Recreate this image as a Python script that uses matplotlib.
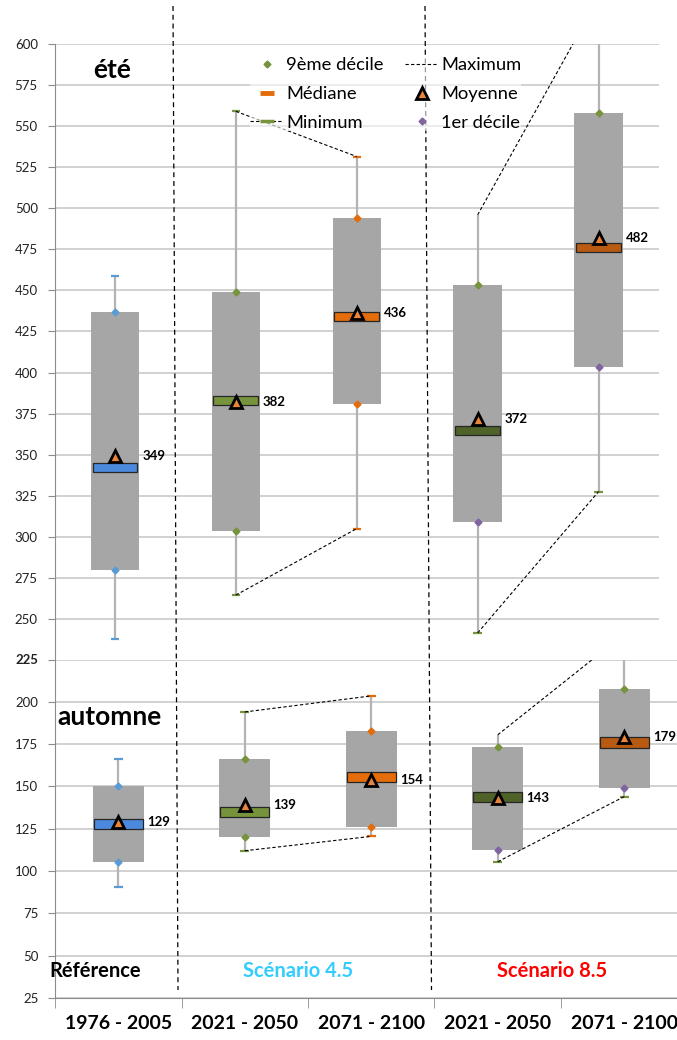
"""
Cumul saisonnier : été / automne
Boîtes 1er-9ème décile, médiane, moyenne, extrêmes
Référence 1976-2005 vs scénarios 4.5 et 8.5
"""

import numpy as np
import matplotlib
matplotlib.use('Agg')
import matplotlib.pyplot as plt
from matplotlib.lines import Line2D
from matplotlib.patches import Rectangle

# ── Data ──────────────────────────────────────────────────────────────────────
periods = ['1976 - 2005', '2021 - 2050', '2071 - 2100', '2021 - 2050', '2071 - 2100']
groups  = ['Référence', 'Scénario 4.5', 'Scénario 8.5']

ete_max    = [458.5, 559.0, 531.5, 496.0, 628.0]
ete_d9     = [437.0, 449.0, 494.0, 453.5, 558.0]
ete_median = [342.0, 383.0, 434.0, 365.0, 476.0]
ete_mean   = [349, 382, 436, 372, 482]
ete_d1     = [280.0, 303.5, 381.0, 309.0, 403.5]
ete_min    = [237.5, 264.5, 305.0, 241.5, 327.5]

aut_max    = [166.5, 194.0, 203.5, 180.5, 240.0]
aut_d9     = [150.0, 166.5, 182.5, 173.5, 207.5]
aut_median = [128.0, 135.0, 155.5, 144.0, 176.0]
aut_mean   = [129, 139, 154, 143, 179]
aut_d1     = [105.5, 120.0, 126.0, 112.5, 149.0]
aut_min    = [90.5, 112.0, 120.5, 105.5, 144.0]

# ── Style ─────────────────────────────────────────────────────────────────────
W, H = 677, 1040
FONT = 'Lato'
plt.rcParams['font.family'] = [FONT, 'DejaVu Sans']

BOX_GREY   = '#a6a6a6'
WHISKER    = '#b3b3b3'
GRID       = '#c9c9c9'
SPINE      = '#8c8c8c'
MEAN_FILL  = '#e8853a'
BLUE, GREEN, ORANGE = '#5b9bd5', '#77933c', '#e46c0a'
PURPLE = '#8064a2'

median_colors  = ['#4a89dc', '#77933c', '#e46c0a', '#4f6228', '#b85a12']
d9_colors      = [BLUE, GREEN, ORANGE, GREEN, GREEN]
d1_colors      = [BLUE, GREEN, ORANGE, PURPLE, PURPLE]
max_cap_colors = [BLUE, GREEN, ORANGE, None, None]
min_cap_colors = [BLUE, GREEN, ORANGE, GREEN, GREEN]


def px_box(left, right, top, bottom):
    """Axes rectangle from pixel edges (origin top-left)."""
    return [left / W, 1 - bottom / H, (right - left) / W, (bottom - top) / H]


# ── Panel drawing ─────────────────────────────────────────────────────────────
def draw_panel(ax, mx, d9, med, mean, d1, mn, box_w, med_w, med_h):
    x = np.arange(len(periods))
    mx, d9, med, d1, mn = map(np.asarray, (mx, d9, med, d1, mn))

    ax.bar(x, d9 - d1, bottom=d1, width=box_w, color=BOX_GREY, zorder=2)
    ax.vlines(x, d9, mx, color=WHISKER, lw=1.6, zorder=1.5)
    ax.vlines(x, mn, d1, color=WHISKER, lw=1.6, zorder=1.5)

    for i in x:
        if max_cap_colors[i]:
            ax.hlines(mx[i], i - 0.035, i + 0.035, color=max_cap_colors[i], lw=1.6, zorder=3)
        ax.hlines(mn[i], i - 0.035, i + 0.035, color=min_cap_colors[i], lw=1.6, zorder=3)
        ax.plot(i, d9[i], 'D', ms=3.5, color=d9_colors[i], zorder=3)
        ax.plot(i, d1[i], 'D', ms=3.5, color=d1_colors[i], zorder=3)
        ax.add_patch(Rectangle((i - med_w / 2, med[i] - med_h / 2), med_w, med_h,
                               facecolor=median_colors[i], edgecolor='#262626',
                               lw=0.9, zorder=4))
        ax.text(i + box_w / 2 + 0.025, mean[i], f'{mean[i]:.0f}', ha='left',
                va='center', fontsize=9.5, fontweight='bold', zorder=6)

    # évolution des extrêmes entre les deux horizons de chaque scénario
    for a, b in [(1, 2), (3, 4)]:
        for serie in (mx, mn):
            ax.plot([a, b], [serie[a], serie[b]], color='black', lw=0.8,
                    ls=(0, (3, 2)), zorder=4)

    ax.plot(x, mean, ls='none', marker='^', ms=9, mfc=MEAN_FILL, mec='black',
            mew=2, zorder=5)

    ax.set_xlim(-0.5, len(periods) - 0.5)
    ax.set_axisbelow(True)
    ax.yaxis.grid(True, color=GRID, lw=1.2)
    for s in ('top', 'right'):
        ax.spines[s].set_visible(False)
    ax.spines['left'].set_color(SPINE)
    ax.tick_params(axis='y', length=5, color=SPINE, pad=7, labelsize=9.5,
                   labelcolor='#222222')


fig = plt.figure(figsize=(W / 100, H / 100), dpi=100)

# ── Été ───────────────────────────────────────────────────────────────────────
ax_top = fig.add_axes(px_box(54.5, 659, 44, 660))
draw_panel(ax_top, ete_max, ete_d9, ete_median, ete_mean, ete_d1, ete_min,
           box_w=0.4, med_w=0.37, med_h=5.5)
ax_top.set_ylim(225, 600)
ax_top.set_yticks(np.arange(250, 601, 25))
ax_top.spines['bottom'].set_visible(False)
ax_top.tick_params(axis='x', bottom=False, labelbottom=False)
ax_top.text(-0.025, 584, 'été', ha='center', va='center', fontsize=19,
            fontweight='bold')

# ── Automne ───────────────────────────────────────────────────────────────────
ax_bot = fig.add_axes(px_box(55, 687.5, 659.5, 998))
draw_panel(ax_bot, aut_max, aut_d9, aut_median, aut_mean, aut_d1, aut_min,
           box_w=0.4, med_w=0.39, med_h=6)
ax_bot.set_ylim(25, 225)
ax_bot.set_yticks(np.arange(25, 226, 25))
ax_bot.get_yticklabels()[-1].set_fontweight('bold')
ax_bot.spines['bottom'].set_color(SPINE)
ax_bot.set_xticks(np.arange(len(periods)))
ax_bot.set_xticklabels(periods, fontsize=14, fontweight='bold')
ax_bot.set_xticks(np.arange(-0.5, len(periods), 1), minor=True)
ax_bot.tick_params(axis='x', which='major', length=0, pad=12)
ax_bot.tick_params(axis='x', which='minor', length=7, color=SPINE)
ax_bot.text(-0.484, 191, 'automne', ha='left', va='center', fontsize=19,
            fontweight='bold')

group_x = [-0.18, 1.42, 3.43]
group_colors = ['black', '#33ccff', '#ff0000']
for gx, name, c in zip(group_x, groups, group_colors):
    ax_bot.text(gx, 41, name, ha='center', va='center', fontsize=14.5,
                fontweight='bold', color=c)

# ── Séparateurs de scénarios ─────────────────────────────────────────────────
for x0, x1 in [(173, 178), (425, 431.5)]:
    fig.add_artist(Line2D([x0 / W, x1 / W], [1 - 6 / H, 1 - 990 / H],
                          transform=fig.transFigure, color='black', lw=0.9,
                          ls=(0, (4, 3))))

# ── Légende ───────────────────────────────────────────────────────────────────
handles = [
    Line2D([], [], ls='none', marker='D', ms=3.5, color=GREEN),
    Line2D([], [], ls='none', marker='_', ms=10, mew=3.5, color=ORANGE),
    Line2D([], [], color='black', lw=0.8, ls=(0, (3, 2)), marker='_', ms=10,
           mew=2.5, mec=GREEN),
    Line2D([], [], color='black', lw=0.8, ls=(0, (3, 2))),
    Line2D([], [], ls='none', marker='^', ms=9, mfc=MEAN_FILL, mec='black', mew=2),
    Line2D([], [], ls='none', marker='D', ms=3.5, color=PURPLE),
]
labels = ['9ème décile', 'Médiane', 'Minimum', 'Maximum', 'Moyenne', '1er décile']
fig.legend(handles, labels, ncol=2, loc='upper left',
           bbox_to_anchor=(241 / W, 1 - 48 / H), frameon=True, framealpha=0.6,
           facecolor='white', edgecolor='none', borderpad=0, fontsize=13.2,
           handlelength=1.8, handletextpad=0.15, columnspacing=1.2,
           labelspacing=0.7)

fig.savefig('out.png', dpi=100)
plt.close(fig)
